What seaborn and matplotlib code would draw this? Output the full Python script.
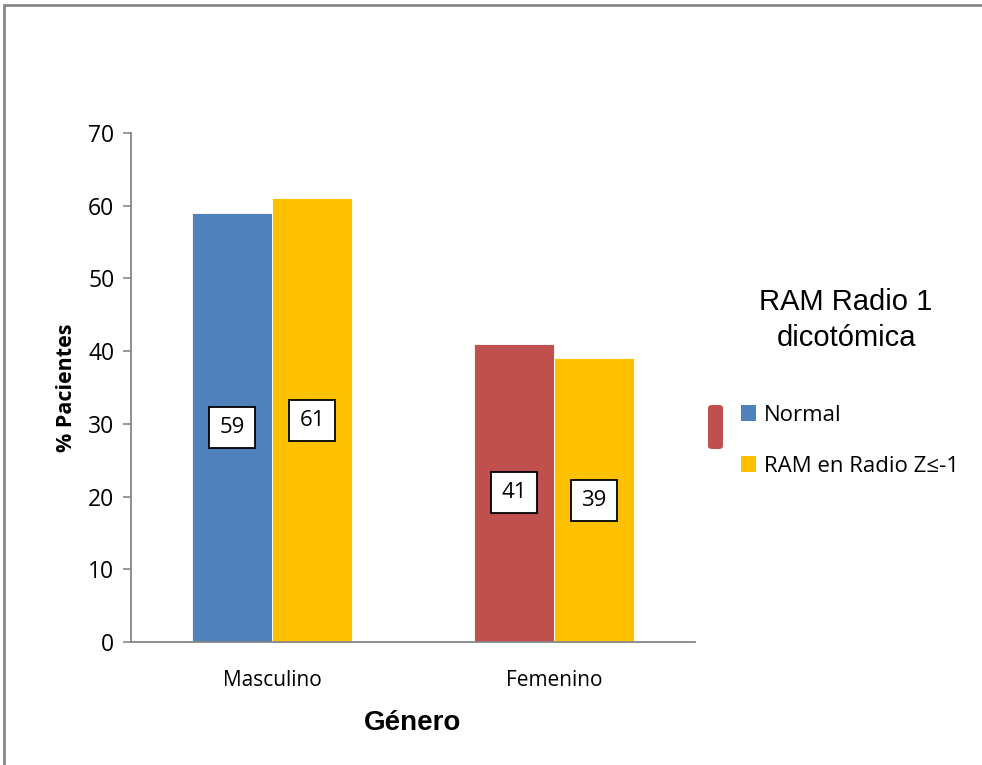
import matplotlib
matplotlib.use("Agg")
import matplotlib.pyplot as plt
from matplotlib.patches import FancyBboxPatch, Patch
from matplotlib.lines import Line2D
import seaborn as sns
import pandas as pd

# Data
categories = ["Masculino", "Femenino"]
series_names = ["Normal", "RAM en Radio Z≤-1"]
normal_values = [59, 41]
ram_values = [61, 39]
y_ticks = [0, 10, 20, 30, 40, 50, 60, 70]

BLUE = "#4F81BD"
RED = "#C0504D"
YELLOW = "#FFC000"
GRAY = "#868686"

df = pd.DataFrame({
    "Género": categories * 2,
    "Serie": [series_names[0]] * 2 + [series_names[1]] * 2,
    "Valor": normal_values + ram_values,
})

sns.set_style("white")
plt.rcParams["font.family"] = ["Open Sans", "DejaVu Sans"]
plt.rcParams["text.color"] = "black"
plt.rcParams["axes.labelcolor"] = "black"

fig = plt.figure(figsize=(9.82, 7.65), dpi=100)
ax = fig.add_axes([131 / 982, 1 - 642 / 765, (695 - 131) / 982, (642 - 133) / 765])

sns.barplot(data=df, x="Género", y="Valor", hue="Serie", order=categories,
            hue_order=series_names, palette=[BLUE, YELLOW], width=0.57,
            saturation=1, legend=False, ax=ax, linewidth=0.6, edgecolor="white")

# The "Normal" bar for Femenino uses its own colour
normal_bars = ax.containers[0]
normal_bars.patches[1].set_facecolor(RED)

# Value labels at mid-height of each bar
for cont, vals in zip(ax.containers, [normal_values, ram_values]):
    for patch, v in zip(cont.patches, vals):
        cx = patch.get_x() + patch.get_width() / 2
        ax.text(cx, v / 2, f"{v}", ha="center", va="center", fontsize=16, color="black",
                bbox=dict(boxstyle="square,pad=0.45", fc="white", ec="black", lw=1.3))

ax.set_ylim(0, 70)
ax.set_xlim(-0.5, 1.5)
ax.set_yticks(y_ticks)
ax.set_yticklabels([str(t) for t in y_ticks], fontsize=16.5)
ax.tick_params(axis="y", direction="out", length=6, width=1.2, color=GRAY, left=True, pad=6,
               labelcolor="black")
ax.tick_params(axis="x", length=0, labelsize=15, pad=20, labelcolor="black")

for s in ["top", "right"]:
    ax.spines[s].set_visible(False)
for s in ["left", "bottom"]:
    ax.spines[s].set_color(GRAY)
    ax.spines[s].set_linewidth(1.3)

ax.set_ylabel("% Pacientes", fontsize=15.5, fontweight="bold", labelpad=8)
ax.set_xlabel("Género", fontsize=20, fontweight="bold", family=["Liberation Sans", "DejaVu Sans"],
              labelpad=14)

# Legend title
fig.text(846 / 982, 1 - 320 / 765, "RAM Radio 1\ndicotómica", ha="center", va="center",
         fontsize=21, family=["Liberation Sans", "DejaVu Sans"], linespacing=1.38)

handles = [Patch(facecolor=BLUE, edgecolor="none"), Patch(facecolor=YELLOW, edgecolor="none")]
fig.legend(handles, series_names, loc="upper left", bbox_to_anchor=(732 / 982, 1 - 396 / 765),
           frameon=False, fontsize=16, handlelength=0.7, handleheight=0.7,
           handletextpad=0.35, labelspacing=1.35, borderaxespad=0)

# Red marker beside the legend entries
fig.patches.append(FancyBboxPatch((708 / 982, 1 - 449 / 765), 15 / 982, 44 / 765,
                                  boxstyle="round,pad=0,rounding_size=0.004",
                                  transform=fig.transFigure, facecolor=RED, edgecolor="none"))

# Outer frame lines
fig.lines.append(Line2D([4 / 982, 1.0], [1 - 5 / 765, 1 - 5 / 765], transform=fig.transFigure,
                        color=GRAY, lw=2))
fig.lines.append(Line2D([4 / 982, 4 / 982], [0, 1 - 5 / 765], transform=fig.transFigure,
                        color=GRAY, lw=2))

fig.savefig("out.png", dpi=100)
